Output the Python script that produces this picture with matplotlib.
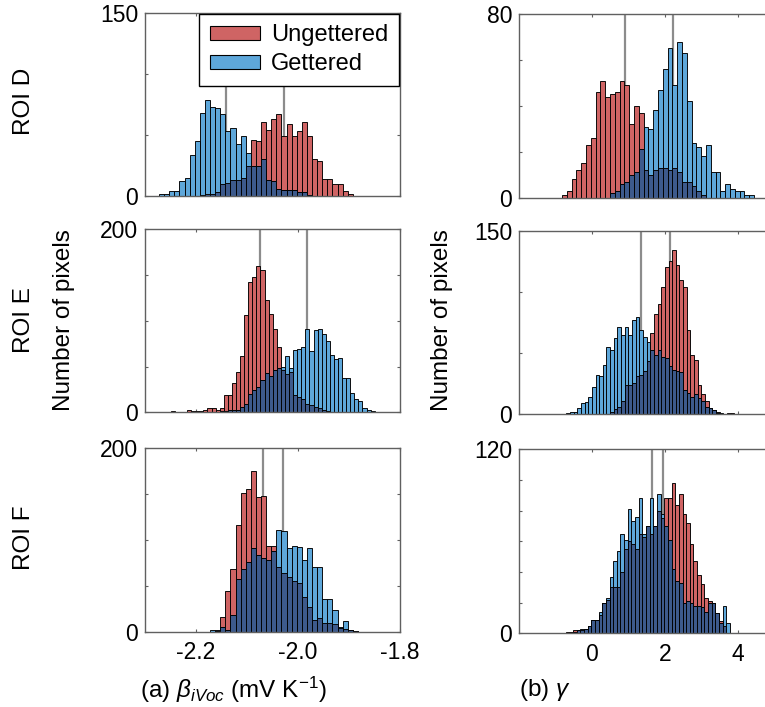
import numpy as np
import matplotlib
matplotlib.use("Agg")
import matplotlib.pyplot as plt
from matplotlib.patches import Patch

plt.rcParams['font.family'] = ['Liberation Sans', 'DejaVu Sans']
plt.rcParams['axes.unicode_minus'] = False
plt.rcParams['mathtext.fontset'] = 'custom'
plt.rcParams['mathtext.rm'] = 'Liberation Sans'
plt.rcParams['mathtext.it'] = 'Liberation Sans:italic'

# ---------------- data ----------------
# ROI D, beta_iVoc
a1_start, a1_width = -2.2725, 0.01
a1_red = [0, 0, 0, 0, 0, 0, 0, 0, 1, 2, 2, 3, 10, 11, 13, 13, 15, 25, 46, 45, 61, 54, 63, 67,
          49, 59, 49, 53, 61, 49, 30, 29, 14, 14, 10, 10, 4, 2, 0]
a1_blue = [2, 2, 4, 4, 12, 15, 34, 45, 68, 79, 73, 72, 67, 53, 56, 43, 49, 35, 25, 25, 30, 13, 12, 6,
           5, 5, 5, 3, 3, 1, 0, 0, 0, 0, 0, 0, 0, 0, 0]
a1_means = [-2.027, -2.141]  # ungettered, gettered

# ROI E, beta_iVoc
a2_start, a2_width = -2.2496, 0.008
a2_red = [1, 0, 0, 0, 2, 1, 1, 1, 2, 5, 5, 2, 5, 19, 19, 32, 44, 61, 106, 142, 148, 160, 155, 123, 107,
          91, 71, 46, 42, 44, 19, 17, 15, 9, 8, 6, 5, 3, 1, 0, 0, 0, 0, 0, 0, 0, 0, 0, 0, 0]
a2_blue = [0, 0, 0, 0, 0, 0, 0, 0, 0, 0, 0, 0, 1, 1, 2, 3, 3, 6, 9, 20, 24, 28, 35, 43, 40,
           46, 48, 50, 62, 48, 68, 69, 71, 91, 67, 90, 91, 86, 78, 63, 58, 59, 37, 37, 21, 15, 12, 5, 3, 1]
a2_means = [-2.0745, -1.982]

# ROI F, beta_iVoc
a3_start, a3_width = -2.1725, 0.01
a3_red = [0, 1, 16, 44, 68, 116, 151, 156, 175, 147, 148, 93, 93, 71, 64, 60, 55, 53, 38, 27, 13, 15,
          10, 9, 8, 4, 3, 2, 1]
a3_blue = [2, 2, 5, 2, 18, 57, 68, 76, 91, 84, 80, 78, 88, 111, 110, 91, 94, 92, 78, 91, 71, 71,
           36, 36, 24, 5, 12, 2, 1]
a3_means = [-2.069, -2.029]

# ROI D, gamma
b1_start, b1_width = -0.822, 0.1315
b1_red = [1, 3, 8, 12, 15, 23, 26, 46, 51, 44, 45, 46, 51, 49, 32, 40, 37, 12, 10, 12, 13, 13, 12, 13,
          11, 7, 7, 5, 3, 1, 0, 0, 0, 0, 0, 0, 0, 0, 0, 0]
b1_blue = [0, 0, 0, 0, 0, 0, 0, 0, 0, 0, 2, 3, 6, 7, 10, 11, 21, 31, 30, 38, 47, 56, 65, 49,
           68, 63, 42, 24, 22, 18, 23, 11, 11, 3, 6, 4, 3, 3, 1, 1]
b1_means = [0.912, 2.227]

# ROI E, gamma
b2_start, b2_width = -0.704, 0.1
b2_red = [0, 0, 0, 0, 0, 0, 0, 0, 0, 0, 0, 0, 2, 4, 6, 11, 24, 24, 25, 31, 32, 35, 43, 66, 82, 90,
          104, 120, 125, 134, 122, 110, 104, 69, 48, 44, 24, 16, 11, 5, 3, 2, 0, 0, 1, 1]
b2_blue = [1, 2, 2, 5, 9, 10, 14, 22, 32, 31, 40, 55, 52, 62, 71, 65, 71, 65, 77, 79, 69, 63, 59, 52,
           48, 52, 47, 46, 39, 36, 35, 34, 20, 17, 14, 16, 13, 11, 6, 5, 3, 1, 1, 0, 0, 0]
b2_means = [2.145, 1.351]

# ROI F, gamma
b3_start, b3_width = -0.72, 0.1
b3_red = [1, 1, 2, 2, 2, 3, 5, 9, 9, 12, 20, 22, 30, 30, 30, 40, 55, 60, 58, 55, 65, 63, 70, 65, 70,
          80, 75, 88, 88, 98, 84, 91, 78, 72, 58, 47, 38, 32, 23, 21, 20, 13, 8, 5, 0]
b3_blue = [0, 0, 1, 2, 3, 3, 5, 9, 9, 14, 20, 23, 37, 47, 54, 65, 61, 81, 73, 76, 88, 65, 70, 88, 70,
           91, 78, 70, 61, 42, 34, 33, 20, 21, 20, 18, 18, 17, 14, 20, 20, 13, 7, 18, 7]
b3_means = [1.953, 1.652]

row_labels = ["ROI D", "ROI E", "ROI F"]
legend_labels = ["Ungettered", "Gettered"]
left_xticks = [-2.2, -2.0, -1.8]
left_xticklabels = ["-2.2", "-2.0", "-1.8"]
right_xticks = [0, 2, 4]
right_xticklabels = ["0", "2", "4"]

# ---------------- style ----------------
RED = '#CF6464'
BLUE = '#5EA7DA'
DARK = '#3D5A8C'
SPINE = '#606060'
MEANC = '#8C8C8C'

W, H = 765, 707
fig = plt.figure(figsize=(W / 100, H / 100), dpi=100)


def axes_px(x0, y_top, x1, y_bot):
    return fig.add_axes([x0 / W, 1 - y_bot / H, (x1 - x0) / W, (y_bot - y_top) / H])


panels = [
    ((145, 13, 400, 196), a1_start, a1_width, a1_red, a1_blue, a1_means, (-2.3, -1.8), 150, 50,
     left_xticks, left_xticklabels),
    ((145, 229.3, 400, 412.3), a2_start, a2_width, a2_red, a2_blue, a2_means, (-2.3, -1.8), 200, 50,
     left_xticks, left_xticklabels),
    ((145, 448.3, 400, 631.7), a3_start, a3_width, a3_red, a3_blue, a3_means, (-2.3, -1.8), 200, 50,
     left_xticks, left_xticklabels),
    ((519, 14, 774.5, 197.7), b1_start, b1_width, b1_red, b1_blue, b1_means, (-2, 5), 80, 20,
     right_xticks, right_xticklabels),
    ((519, 230.7, 774.5, 414), b2_start, b2_width, b2_red, b2_blue, b2_means, (-2, 5), 150, 50,
     right_xticks, right_xticklabels),
    ((519, 449.3, 774.5, 633.3), b3_start, b3_width, b3_red, b3_blue, b3_means, (-2, 5), 120, 20,
     right_xticks, right_xticklabels),
]

axes = []
for idx, (rect, start, width, red, blue, means, xlim, ymax, ystep, xt, xtl) in enumerate(panels):
    ax = axes_px(*rect)
    axes.append(ax)
    red = np.asarray(red, float)
    blue = np.asarray(blue, float)
    lefts = start + width * np.arange(len(red))
    ov = np.minimum(red, blue)
    kw = dict(width=width, align='edge', edgecolor='black', linewidth=0.65)
    ax.bar(lefts, red, color=RED, zorder=2, **kw)
    ax.bar(lefts, blue, color=BLUE, zorder=3, **kw)
    ax.bar(lefts, ov, color=DARK, zorder=4, **kw)
    for m in means:
        ax.axvline(m, color=MEANC, lw=1.6, zorder=1)
    ax.set_xlim(*xlim)
    ax.set_ylim(0, ymax)
    yt = np.arange(0, ymax + 1, ystep)
    ax.set_yticks(yt)
    ax.set_yticklabels([f"{int(v)}" if v in (0, ymax) else "" for v in yt])
    ax.set_xticks(xt)
    if idx % 3 == 2:
        ax.set_xticklabels(xtl)
    else:
        ax.set_xticklabels([])
    ax.tick_params(direction='in', length=2.5, width=0.8, top=True, right=True,
                   color=SPINE, labelsize=16.5, pad=5)
    ax.tick_params(axis='x', pad=7)
    for s in ax.spines.values():
        s.set_color(SPINE)
        s.set_linewidth(1.0)
        s.set_zorder(5)

# legend
handles = [Patch(facecolor=RED, edgecolor='black', linewidth=0.8),
           Patch(facecolor=BLUE, edgecolor='black', linewidth=0.8)]
leg = axes[0].legend(handles, legend_labels, loc='upper right', bbox_to_anchor=(0.997, 0.997),
                     borderaxespad=0, fontsize=17, frameon=True, fancybox=False, framealpha=1,
                     edgecolor='black', handlelength=2.1, handleheight=0.55, handletextpad=0.5,
                     labelspacing=0.3, borderpad=0.45)
leg.get_frame().set_linewidth(1.0)
leg.set_zorder(10)

# row labels
row_centers = [101, 320, 538]
for lab, yc in zip(row_labels, row_centers):
    fig.text(24 / W, 1 - yc / H, lab, rotation=90, ha='center', va='center', fontsize=17.5)

# y labels
fig.text(64 / W, 1 - 320 / H, "Number of pixels", rotation=90, ha='center', va='center', fontsize=17.5)
fig.text(442 / W, 1 - 320 / H, "Number of pixels", rotation=90, ha='center', va='center', fontsize=17.5)

# x labels
fig.text(140 / W, 1 - 690 / H, r"(a) $\beta_{iVoc}$ (mV K$^{\mathrm{-1}}$)", ha='left', va='center',
         fontsize=17.5)
fig.text(519 / W, 1 - 690 / H, r"(b) $\gamma$", ha='left', va='center', fontsize=17.5)

fig.savefig("out.png", dpi=100)
